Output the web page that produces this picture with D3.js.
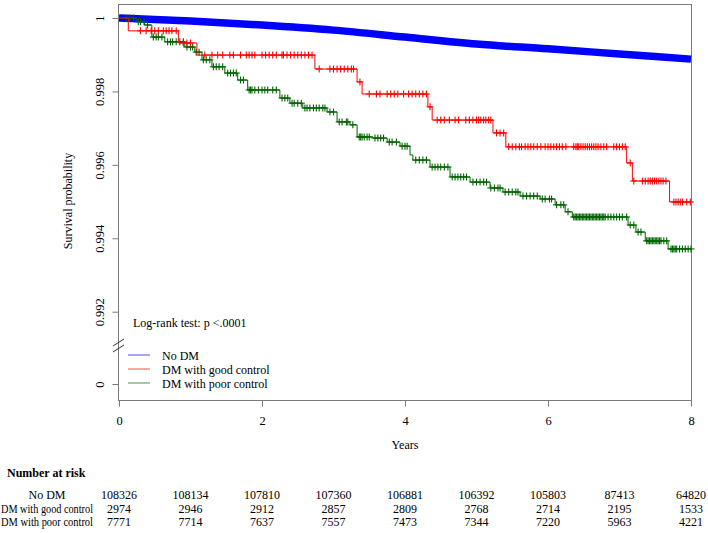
<!DOCTYPE html>
<html>
<head>
<meta charset="utf-8">
<script src="https://cdn.jsdelivr.net/npm/d3@7"></script>
<style>
  body { margin: 0; background: #fff; }
  svg { font-family: "Liberation Serif", "Times New Roman", serif; }
</style>
</head>
<body>
<svg id="chart" width="708" height="533"></svg>
<script>
// group names
var groups = ["No DM", "DM with good control", "DM with poor control"];
var colors = ["#0000ff", "#ff0000", "#006400"];

// blue curve (No DM)
var noDmTime = [0, 1, 2, 3, 4, 5, 6, 7, 8];
var noDmSurv = [1, 0.99992, 0.99981, 0.99967, 0.99948, 0.99929, 0.99916, 0.99902, 0.99888];

// red step curve (good control)
var goodTime = [0, 0.13, 0.83, 1.09, 2.74, 3.33, 3.40, 4.32, 4.38, 5.23, 5.41, 7.10, 7.18, 7.70, 8];
var goodSurv = [1, 0.99965, 0.99932, 0.99899, 0.99861, 0.99826, 0.99793, 0.99758, 0.99722, 0.99687, 0.99649, 0.99605, 0.99556, 0.99499, 0.99499];

// green step curve (poor control)
var poorTime = [0, 0.25, 0.36, 0.46, 0.64, 0.92, 1.06, 1.16, 1.30, 1.48, 1.66, 1.80, 2.25, 2.39, 2.57, 2.91, 3.05, 3.23, 3.33, 3.55, 3.75, 3.93, 4.07, 4.11, 4.35, 4.63, 4.91, 5.19, 5.37, 5.61, 5.89, 6.10, 6.24, 6.34, 7.12, 7.23, 7.36, 7.68, 8];
var poorSurv = [1, 0.99990, 0.99981, 0.99948, 0.99935, 0.99921, 0.99907, 0.99886, 0.99867, 0.99850, 0.99831, 0.99804, 0.99782, 0.99768, 0.99755, 0.99744, 0.99717, 0.99709, 0.99676, 0.99673, 0.99662, 0.99651, 0.99627, 0.99613, 0.99594, 0.99567, 0.99553, 0.99537, 0.99526, 0.99515, 0.99507, 0.99491, 0.99472, 0.99458, 0.99436, 0.99417, 0.99393, 0.99371, 0.99371];

// censoring marks
var goodCensor = [0.30, 0.38, 0.45, 0.50, 0.55, 0.62, 0.66, 0.70, 0.74, 0.80, 0.90, 0.95, 1.00,
  1.20, 1.30, 1.38, 1.45, 1.55, 1.60, 1.70, 1.78, 1.82, 1.86, 1.90, 2.00, 2.05, 2.10, 2.15, 2.20, 2.28, 2.30, 2.35, 2.40, 2.45, 2.50, 2.55, 2.60, 2.65, 2.70,
  2.80, 2.95, 3.00, 3.05, 3.10, 3.15, 3.20, 3.25, 3.28, 3.37,
  3.50, 3.60, 3.65, 3.75, 3.80, 3.85, 3.90, 3.98, 4.05, 4.10, 4.15, 4.20, 4.25, 4.30, 4.35,
  4.45, 4.50, 4.55, 4.62, 4.70, 4.75, 4.85, 4.90, 4.95, 5.00, 5.03, 5.06, 5.10, 5.13, 5.17, 5.20, 5.28, 5.33, 5.38,
  5.45, 5.50, 5.55, 5.60, 5.63, 5.68, 5.72, 5.76, 5.80, 5.85, 5.90, 5.96, 6.00, 6.04, 6.08, 6.12, 6.16, 6.20, 6.25,
  6.36, 6.39, 6.41, 6.43, 6.46, 6.49, 6.52, 6.55, 6.58, 6.61, 6.64, 6.67, 6.70, 6.74, 6.78, 6.82,
  6.92, 6.96, 7.00, 7.04, 7.08, 7.15, 7.20,
  7.32, 7.36, 7.40, 7.43, 7.46, 7.49, 7.52, 7.55, 7.58, 7.61, 7.65,
  7.76, 7.79, 7.82, 7.85, 7.88, 7.94, 7.99];
var poorCensor = [0.10, 0.15, 0.20, 0.27, 0.30, 0.35, 0.40, 0.48, 0.52, 0.55, 0.60, 0.68, 0.72, 0.75, 0.80, 0.85, 0.90, 0.95, 1.00, 1.03, 1.08, 1.12, 1.18, 1.22, 1.27, 1.32, 1.36, 1.40, 1.45, 1.52, 1.56, 1.60, 1.64, 1.70, 1.74,
  1.82, 1.84, 1.86, 1.90, 1.95, 2.00, 2.04, 2.08, 2.15, 2.20, 2.28, 2.32, 2.36, 2.42, 2.45, 2.50, 2.55, 2.60, 2.63, 2.67, 2.72, 2.76, 2.80, 2.85, 2.88, 2.95, 3.00, 3.08, 3.12, 3.18, 3.20, 3.27,
  3.36, 3.38, 3.40, 3.43, 3.47, 3.50, 3.58, 3.62, 3.66, 3.70, 3.78, 3.82, 3.88, 3.96, 4.00, 4.03, 4.15, 4.20, 4.25, 4.30, 4.38, 4.42, 4.46, 4.50, 4.55, 4.60, 4.66, 4.70, 4.74, 4.78, 4.82, 4.86,
  4.95, 5.00, 5.05, 5.10, 5.14, 5.20, 5.25, 5.30, 5.33, 5.40, 5.45, 5.50, 5.55, 5.58, 5.65, 5.70, 5.75, 5.80, 5.85, 5.92, 5.96, 6.02, 6.05, 6.12, 6.18, 6.22, 6.28,
  6.36, 6.38, 6.40, 6.42, 6.44, 6.46, 6.48, 6.50, 6.52, 6.54, 6.56, 6.58, 6.60, 6.62, 6.64, 6.66, 6.68, 6.70, 6.72, 6.74, 6.76, 6.78, 6.80, 6.84, 6.88, 6.92, 6.96, 7.00, 7.04, 7.10, 7.15, 7.20, 7.26, 7.30,
  7.38, 7.40, 7.42, 7.44, 7.46, 7.48, 7.50, 7.52, 7.54, 7.56, 7.58, 7.62, 7.66, 7.72, 7.74, 7.76, 7.78, 7.80, 7.84, 7.88, 7.92, 7.96, 8.00];

// axes
var xTicks = [0, 2, 4, 6, 8];
var yTicks = [0, 0.992, 0.994, 0.996, 0.998, 1];

// number at risk table
var riskTimes = [0, 1, 2, 3, 4, 5, 6, 7, 8];
var riskNoDm = [108326, 108134, 107810, 107360, 106881, 106392, 105803, 87413, 64820];
var riskGood = [2974, 2946, 2912, 2857, 2809, 2768, 2714, 2195, 1533];
var riskPoor = [7771, 7714, 7637, 7557, 7473, 7344, 7220, 5963, 4221];

var svg = d3.select("#chart");

var x = d3.scaleLinear().domain([0, 8]).range([119, 691]);
// broken axis: 0 sits below the break
var y = d3.scaleLinear().domain([0, 0.991, 0.992, 1]).range([384, 340, 311.7, 18]);

var boxColor = "#7a7a7a";

// plot box
svg.append("rect")
    .attr("x", 118.5).attr("y", 4.5)
    .attr("width", 573).attr("height", 396)
    .attr("fill", "none").attr("stroke", boxColor);

// y axis
var yAxis = d3.axisLeft(y).tickValues(yTicks).tickSize(6)
    .tickFormat(function (d) { return d === 1 ? "1" : (d === 0 ? "0" : d.toFixed(3)); });
var gy = svg.append("g").attr("transform", "translate(118.5,0)").call(yAxis);
gy.select(".domain").remove();
gy.selectAll(".tick line").attr("stroke", boxColor);
gy.selectAll(".tick text")
    .attr("x", null).attr("dy", null)
    .attr("transform", "translate(-15,0) rotate(-90)")
    .attr("text-anchor", "middle")
    .style("font-family", "Liberation Serif")
    .style("font-size", "12.5px").attr("fill", "#000");

// break marks on the y axis
[342, 348].forEach(function (yy) {
    svg.append("line")
        .attr("x1", 113).attr("y1", yy + 4)
        .attr("x2", 124).attr("y2", yy - 3)
        .attr("stroke", "#333").attr("stroke-width", 1);
});

// x axis
var xAxis = d3.axisBottom(x).tickValues(xTicks).tickSize(6).tickPadding(10);
var gx = svg.append("g").attr("transform", "translate(0,400.5)").call(xAxis);
gx.select(".domain").remove();
gx.selectAll(".tick line").attr("stroke", boxColor);
gx.selectAll(".tick text")
    .style("font-family", "Liberation Serif")
    .style("font-size", "12.5px").attr("fill", "#000");

svg.append("text").attr("x", x(4)).attr("y", 449)
    .attr("text-anchor", "middle").style("font-size", "12px").text("Years");

svg.append("text")
    .attr("transform", "translate(72,201) rotate(-90)")
    .attr("text-anchor", "middle").style("font-size", "12px")
    .text("Survival probability");

// curves
var stepLine = d3.line()
    .x(function (d) { return x(d[0]); })
    .y(function (d) { return y(d[1]); })
    .curve(d3.curveStepAfter);

var smoothLine = d3.line()
    .x(function (d) { return x(d[0]); })
    .y(function (d) { return y(d[1]); })
    .curve(d3.curveMonotoneX);

function pairs(t, s) { return t.map(function (v, i) { return [v, s[i]]; }); }

function stepAt(t, s, v) {
    var i = d3.bisectRight(t, v) - 1;
    return s[Math.max(0, i)];
}

// No DM: censoring so dense it reads as a thick band
svg.append("path")
    .datum(pairs(noDmTime, noDmSurv))
    .attr("d", smoothLine)
    .attr("fill", "none").attr("stroke", colors[0]).attr("stroke-width", 7.5);

function drawStep(t, s, censor, col) {
    svg.append("path")
        .datum(pairs(t, s))
        .attr("d", stepLine)
        .attr("fill", "none").attr("stroke", col).attr("stroke-width", 1);
    var g = svg.append("g").attr("stroke", col).attr("stroke-width", 1.1);
    censor.forEach(function (c) {
        var cx = x(c), cy = y(stepAt(t, s, c));
        g.append("line").attr("x1", cx).attr("x2", cx).attr("y1", cy - 3.5).attr("y2", cy + 3.5);
        g.append("line").attr("x1", cx - 3.5).attr("x2", cx + 3.5).attr("y1", cy).attr("y2", cy);
    });
}

drawStep(poorTime, poorSurv, poorCensor, colors[2]);
drawStep(goodTime, goodSurv, goodCensor, colors[1]);

// log-rank text
svg.append("text").attr("x", 133).attr("y", 327)
    .style("font-size", "12px").text("Log-rank test: p <.0001");

// legend
var leg = svg.append("g");
groups.forEach(function (name, i) {
    var ly = 355 + i * 14;
    leg.append("line").attr("x1", 128).attr("x2", 150).attr("y1", ly).attr("y2", ly)
        .attr("stroke", colors[i]).attr("stroke-width", 1).attr("opacity", 0.7);
    leg.append("text").attr("x", 162).attr("y", ly + 4.5)
        .style("font-size", "12px").text(name);
});

// number at risk
svg.append("text").attr("x", 7).attr("y", 477)
    .style("font-size", "12px").style("font-weight", "bold").text("Number at risk");

var rows = [riskNoDm, riskGood, riskPoor];
rows.forEach(function (vals, r) {
    var ry = 499 + r * 13.5;
    var lab = svg.append("text").attr("x", 47).attr("y", ry)
        .attr("text-anchor", "middle").style("font-size", "12px").text(groups[r]);
    if (lab.node().getComputedTextLength() > 92) {
        lab.attr("textLength", 92).attr("lengthAdjust", "spacingAndGlyphs");
    }
    svg.selectAll(null).data(vals).enter().append("text")
        .attr("x", function (d, i) { return x(riskTimes[i]); })
        .attr("y", ry)
        .attr("text-anchor", "middle").style("font-size", "12px")
        .text(function (d) { return d; });
});
</script>
</body>
</html>
